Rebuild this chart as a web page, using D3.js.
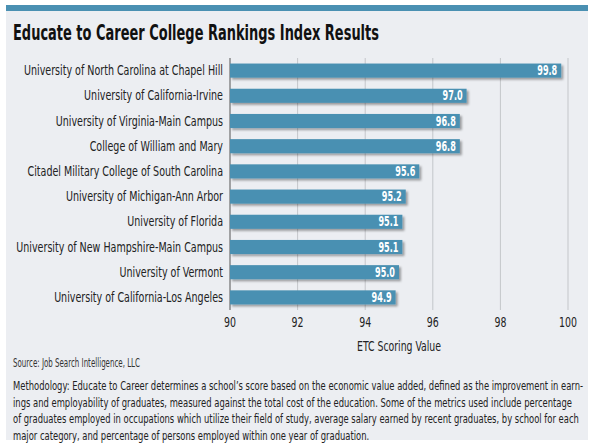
<!DOCTYPE html>
<html><head><meta charset="utf-8">
<script src="https://cdn.jsdelivr.net/npm/d3@7"></script>
<style>
body{margin:0;background:#fff;}
text{font-family:"DejaVu Sans Condensed","Liberation Sans Narrow",sans-serif;font-stretch:condensed;}
</style></head><body>
<svg id="chart" width="595" height="445"></svg>
<script>
var schools = ['University of North Carolina at Chapel Hill','University of California-Irvine',
    'University of Virginia-Main Campus','College of William and Mary',
    'Citadel Military College of South Carolina','University of Michigan-Ann Arbor',
    'University of Florida','University of New Hampshire-Main Campus',
    'University of Vermont','University of California-Los Angeles'],
    scores = [99.8, 97.0, 96.8, 96.8, 95.6, 95.2, 95.1, 95.1, 95.0, 94.9],
    ticks = [90, 92, 94, 96, 98, 100],
    notes = ['Methodology: Educate to Career determines a school\u2019s score based on the economic value added, defined as the improvement in earn-',
      'ings and employability of graduates, measured against the total cost of the education. Some of the metrics used include percentage',
      'of graduates employed in occupations which utilize their field of study, average salary earned by recent graduates, by school for each',
      'major category, and percentage of persons employed within one year of graduation.'];

var svg = d3.select('#chart'),
    blue = '#4a90b2';

// squeeze a group of texts so its first one spans the given width
function squeeze(sel, target) {
  var k = target / sel.node().getComputedTextLength();
  sel.each(function() {
    this.setAttribute('textLength', this.getComputedTextLength() * k);
    this.setAttribute('lengthAdjust', 'spacingAndGlyphs');
  });
}

svg.append('rect').attr('x', 6).attr('y', 5).attr('width', 582).attr('height', 6).attr('fill', blue);
svg.append('rect').attr('x', 6).attr('y', 11).attr('width', 582).attr('height', 429).attr('fill', '#eceef2');

squeeze(svg.append('text').attr('x', 13).attr('y', 40).attr('font-size', 22).attr('font-weight', 'bold')
    .attr('fill', '#111').text('Educate to Career College Rankings Index Results'), 366);

var x = d3.scaleLinear().domain([90, 100]).range([230, 568]),
    y = d3.scaleBand().domain(schools).range([58, 310]).paddingInner(0.44).paddingOuter(0.22);

var f = svg.append('defs').append('filter').attr('id', 'sh').attr('x', '-5%').attr('y', '-30%').attr('width', '110%').attr('height', '170%');
f.append('feDropShadow').attr('dx', 2).attr('dy', 2).attr('stdDeviation', 1).attr('flood-color', '#000').attr('flood-opacity', 0.35);

svg.append('g').selectAll('line').data(ticks).join('line')
    .attr('x1', d => x(d)).attr('x2', d => x(d)).attr('y1', 58).attr('y2', 310)
    .attr('stroke', d => d === 90 ? '#555' : '#c4c6ca').attr('stroke-width', 1);

svg.append('g').selectAll('rect').data(scores).join('rect')
    .attr('x', x(90)).attr('y', (d, i) => y(schools[i]))
    .attr('width', d => x(d) - x(90)).attr('height', y.bandwidth())
    .attr('fill', blue).attr('filter', 'url(#sh)');

var vals = svg.append('g').selectAll('text').data(scores).join('text')
    .attr('x', d => x(d) - 4).attr('y', (d, i) => y(schools[i]) + y.bandwidth() / 2 + 4.5)
    .attr('text-anchor', 'end').attr('font-size', 14).attr('font-weight', 'bold').attr('fill', '#fff')
    .text(d => d.toFixed(1));
squeeze(vals, 20);

var labels = svg.append('g').selectAll('text').data(schools).join('text')
    .attr('x', 223).attr('y', d => y(d) + y.bandwidth() / 2 + 4.5)
    .attr('text-anchor', 'end').attr('font-size', 14).attr('fill', '#222').text(d => d);
squeeze(labels, 199);

var tl = svg.append('g').selectAll('text').data(ticks).join('text')
    .attr('x', d => x(d)).attr('y', 327).attr('text-anchor', 'middle')
    .attr('font-size', 14).attr('fill', '#222').text(d => d);
squeeze(tl, 12);

squeeze(svg.append('text').attr('x', x(95)).attr('y', 351).attr('text-anchor', 'middle')
    .attr('font-size', 14).attr('fill', '#222').text('ETC Scoring Value'), 84);

squeeze(svg.append('text').attr('x', 13).attr('y', 367).attr('font-size', 12).attr('fill', '#333')
    .text('Source: Job Search Intelligence, LLC'), 127);

squeeze(svg.append('g').selectAll('text').data(notes).join('text')
    .attr('x', 13).attr('y', (d, i) => 390 + i * 16.5).attr('font-size', 12).attr('fill', '#222')
    .text(d => d), 570);
</script>
</body></html>
